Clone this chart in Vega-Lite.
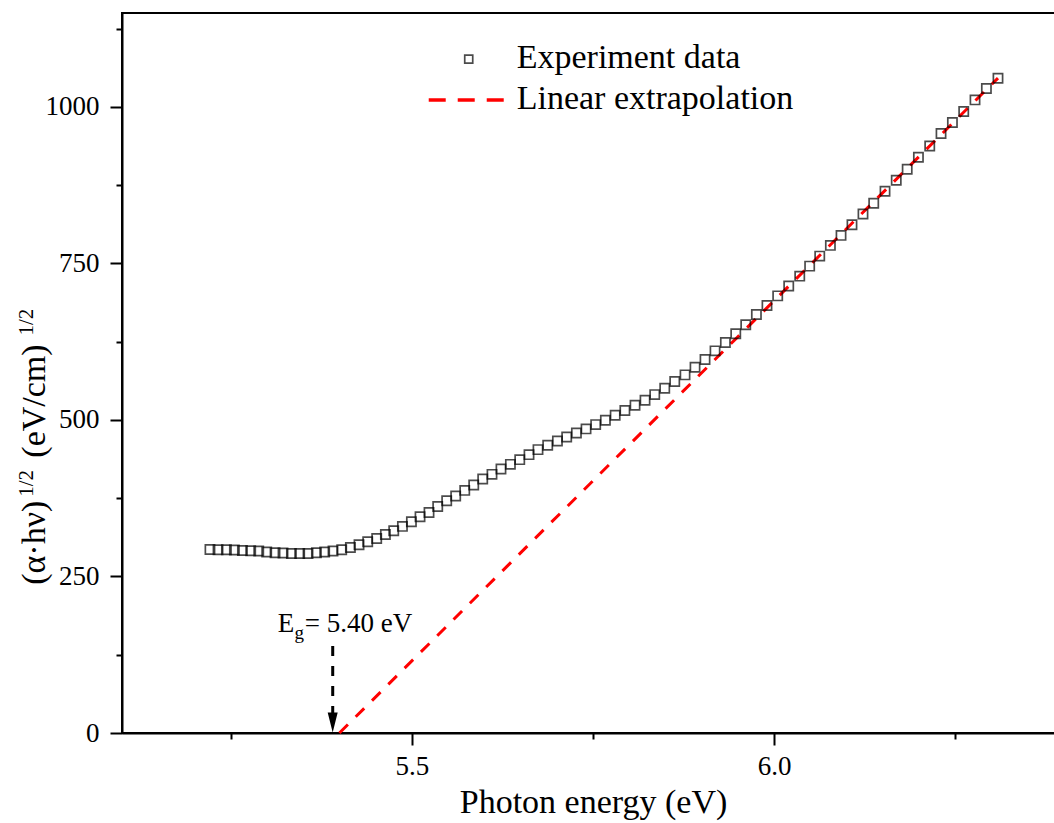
{
  "$schema": "https://vega.github.io/schema/vega-lite/v6.json",
  "autosize": {"type": "none"},
  "padding": {"left": 122, "top": 13, "right": 0, "bottom": 90},
  "width": 942,
  "height": 720,
  "background": "white",
  "config": {
    "font": "Liberation Serif",
    "view": {"stroke": "black", "strokeWidth": 2},
    "style": {
      "guide-label": {"font": "Liberation Serif", "fill": "black"},
      "guide-title": {"font": "Liberation Serif", "fill": "black"}
    },
    "axis": {
      "grid": false,
      "domainColor": "black",
      "domainWidth": 2,
      "tickColor": "black",
      "tickWidth": 2,
      "labelFont": "Liberation Serif",
      "labelFontSize": 27,
      "labelColor": "black",
      "titleFont": "Liberation Serif",
      "titleFontWeight": "normal",
      "titleColor": "black"
    }
  },
  "datasets": {
    "exp": [
      {"E": 5.2214, "v": 293.1}, {"E": 5.2325, "v": 292.7}, {"E": 5.2441, "v": 292.7}, {"E": 5.2551, "v": 292.2},
      {"E": 5.2662, "v": 291.5}, {"E": 5.2776, "v": 291.1}, {"E": 5.2887, "v": 290.6}, {"E": 5.2997, "v": 289.0},
      {"E": 5.3112, "v": 287.9}, {"E": 5.3222, "v": 287.4}, {"E": 5.3338, "v": 286.7}, {"E": 5.3452, "v": 286.7},
      {"E": 5.3567, "v": 286.7}, {"E": 5.3683, "v": 287.9}, {"E": 5.3797, "v": 289.0}, {"E": 5.3912, "v": 290.6},
      {"E": 5.4032, "v": 292.7}, {"E": 5.4152, "v": 296.3}, {"E": 5.4271, "v": 300.7}, {"E": 5.4391, "v": 305.5},
      {"E": 5.4515, "v": 310.7}, {"E": 5.4635, "v": 317.1}, {"E": 5.4750, "v": 323.0}, {"E": 5.4870, "v": 330.0},
      {"E": 5.4994, "v": 337.4}, {"E": 5.5113, "v": 345.4}, {"E": 5.5237, "v": 352.3}, {"E": 5.5357, "v": 361.9},
      {"E": 5.5481, "v": 371.0}, {"E": 5.5605, "v": 378.5}, {"E": 5.5730, "v": 387.5}, {"E": 5.5854, "v": 396.1},
      {"E": 5.5978, "v": 405.7}, {"E": 5.6106, "v": 413.1}, {"E": 5.6230, "v": 421.7}, {"E": 5.6360, "v": 429.1},
      {"E": 5.6489, "v": 436.6}, {"E": 5.6617, "v": 444.6}, {"E": 5.6741, "v": 452.6}, {"E": 5.6875, "v": 459.5},
      {"E": 5.7009, "v": 466.5}, {"E": 5.7137, "v": 472.9}, {"E": 5.7271, "v": 479.3}, {"E": 5.7404, "v": 485.7},
      {"E": 5.7537, "v": 492.6}, {"E": 5.7671, "v": 499.4}, {"E": 5.7806, "v": 507.4}, {"E": 5.7940, "v": 515.2},
      {"E": 5.8080, "v": 523.4}, {"E": 5.8218, "v": 531.4}, {"E": 5.8352, "v": 540.5}, {"E": 5.8490, "v": 550.6},
      {"E": 5.8628, "v": 561.3}, {"E": 5.8770, "v": 572.0}, {"E": 5.8908, "v": 584.2}, {"E": 5.9046, "v": 596.5},
      {"E": 5.9184, "v": 610.4}, {"E": 5.9327, "v": 623.7}, {"E": 5.9470, "v": 637.6}, {"E": 5.9608, "v": 652.0},
      {"E": 5.9755, "v": 668.5}, {"E": 5.9901, "v": 682.9}, {"E": 6.0049, "v": 698.2}, {"E": 6.0201, "v": 713.9},
      {"E": 6.0353, "v": 729.7}, {"E": 6.0490, "v": 745.7}, {"E": 6.0629, "v": 761.7}, {"E": 6.0776, "v": 778.8},
      {"E": 6.0923, "v": 794.8}, {"E": 6.1074, "v": 811.9}, {"E": 6.1226, "v": 828.9}, {"E": 6.1374, "v": 846.0},
      {"E": 6.1530, "v": 865.2}, {"E": 6.1685, "v": 882.8}, {"E": 6.1836, "v": 900.4}, {"E": 6.1991, "v": 919.6},
      {"E": 6.2147, "v": 937.6}, {"E": 6.2303, "v": 957.4}, {"E": 6.2460, "v": 975.0}, {"E": 6.2616, "v": 992.6},
      {"E": 6.2772, "v": 1011.2}, {"E": 6.2929, "v": 1029.4}, {"E": 6.3089, "v": 1045.9}
    ],
    "fit": [{"E": 5.40, "v": 0}, {"E": 6.3089, "v": 1046}]
  },
  "layer": [
    {
      "data": {"name": "fit"},
      "mark": {"type": "line", "color": "#ff0000", "strokeWidth": 3, "strokeDash": [12, 11]},
      "encoding": {
        "x": {"field": "E", "type": "quantitative",
          "scale": {"domain": [5.1, 6.4], "nice": false, "zero": false},
          "axis": {
            "values": [5.25, 5.5, 5.75, 6.0, 6.25],
            "labelExpr": "abs(datum.value*2 - round(datum.value*2)) < 0.000001 ? format(datum.value, '.1f') : ''",
            "tickSize": {"condition": {"test": "abs(datum.value*2 - round(datum.value*2)) < 0.000001", "value": 12}, "value": 6},
            "labelPadding": 8,
            "labelFont": "Liberation Serif",
            "labelFontSize": 27,
            "title": "Photon energy (eV)",
            "titleFont": "Liberation Serif",
            "titleFontSize": 34,
            "titleFontWeight": "normal",
            "titlePadding": 6
          }
        },
        "y": {"field": "v", "type": "quantitative",
          "scale": {"domain": [0, 1150], "nice": false},
          "axis": {
            "values": [0, 125, 250, 375, 500, 625, 750, 875, 1000, 1125],
            "format": "d",
            "labelExpr": "datum.value % 250 === 0 ? datum.label : ''",
            "tickSize": {"condition": {"test": "datum.value % 250 === 0", "value": 12}, "value": 6},
            "labelPadding": 11,
            "labelFont": "Liberation Serif",
            "labelFontSize": 27,
            "title": null
          }
        }
      }
    },
    {
      "data": {"name": "exp"},
      "mark": {"type": "point", "shape": "square", "size": 85, "filled": false, "stroke": "black", "strokeWidth": 1.7},
      "encoding": {
        "x": {"field": "E", "type": "quantitative"},
        "y": {"field": "v", "type": "quantitative"}
      }
    },
    {
      "data": {"values": [{"E": 5.3908, "v1": 139, "v2": 30}]},
      "mark": {"type": "rule", "color": "black", "strokeWidth": 3, "strokeDash": [10, 10]},
      "encoding": {
        "x": {"field": "E", "type": "quantitative"},
        "y": {"field": "v1", "type": "quantitative"},
        "y2": {"field": "v2"}
      }
    },
    {
      "data": {"values": [{"E": 5.3908, "v": 16.8}]},
      "mark": {"type": "point", "shape": "M-0.5,-1L0.5,-1L0,1Z", "size": 400, "filled": true, "color": "black", "opacity": 1},
      "encoding": {
        "x": {"field": "E", "type": "quantitative"},
        "y": {"field": "v", "type": "quantitative"}
      }
    },
    {
      "data": {"values": [{"E": 5.3149, "v": 161.5, "t": "E"}, {"E": 5.3521, "v": 161.5, "t": "= 5.40 eV"}]},
      "mark": {"type": "text", "font": "Liberation Serif", "fontSize": 27, "align": "left", "baseline": "alphabetic", "color": "black"},
      "encoding": {
        "x": {"field": "E", "type": "quantitative"},
        "y": {"field": "v", "type": "quantitative"},
        "text": {"field": "t"}
      }
    },
    {
      "data": {"values": [{"E": 5.3380, "v": 150.3, "t": "g"}]},
      "mark": {"type": "text", "font": "Liberation Serif", "fontSize": 19, "align": "left", "baseline": "alphabetic", "color": "black"},
      "encoding": {
        "x": {"field": "E", "type": "quantitative"},
        "y": {"field": "v", "type": "quantitative"},
        "text": {"field": "t"}
      }
    },
    {
      "data": {"values": [{"E": 5.5785, "v": 1076.3}]},
      "mark": {"type": "point", "shape": "square", "size": 64, "filled": false, "stroke": "black", "strokeWidth": 1.7},
      "encoding": {
        "x": {"field": "E", "type": "quantitative"},
        "y": {"field": "v", "type": "quantitative"}
      }
    },
    {
      "data": {"values": [{"E": 5.5233, "v": 1011.2}, {"E": 5.6282, "v": 1011.2}]},
      "mark": {"type": "line", "color": "#ff0000", "strokeWidth": 3.5, "strokeDash": [17, 12]},
      "encoding": {
        "x": {"field": "E", "type": "quantitative"},
        "y": {"field": "v", "type": "quantitative"}
      }
    },
    {
      "data": {"values": [{"E": 5.6447, "v": 1062.7, "t": "Experiment data"}, {"E": 5.6447, "v": 996.3, "t": "Linear extrapolation"}]},
      "mark": {"type": "text", "font": "Liberation Serif", "fontSize": 34, "align": "left", "baseline": "alphabetic", "color": "black"},
      "encoding": {
        "x": {"field": "E", "type": "quantitative"},
        "y": {"field": "v", "type": "quantitative"},
        "text": {"field": "t"}
      }
    },
    {
      "data": {"values": [{"E": 4.9933, "v": 236.7, "t": "(α·hν)"}, {"E": 4.9933, "v": 439.8, "t": "(eV/cm)"}]},
      "mark": {"type": "text", "font": "Liberation Serif", "fontSize": 34, "align": "left", "baseline": "alphabetic", "angle": 270, "color": "black"},
      "encoding": {
        "x": {"field": "E", "type": "quantitative"},
        "y": {"field": "v", "type": "quantitative"},
        "text": {"field": "t"}
      }
    },
    {
      "data": {"values": [{"E": 4.9768, "v": 377.4, "t": "1/2"}, {"E": 4.9768, "v": 634.9, "t": "1/2"}]},
      "mark": {"type": "text", "font": "Liberation Serif", "fontSize": 21, "align": "left", "baseline": "alphabetic", "angle": 270, "color": "black"},
      "encoding": {
        "x": {"field": "E", "type": "quantitative"},
        "y": {"field": "v", "type": "quantitative"},
        "text": {"field": "t"}
      }
    }
  ]
}
